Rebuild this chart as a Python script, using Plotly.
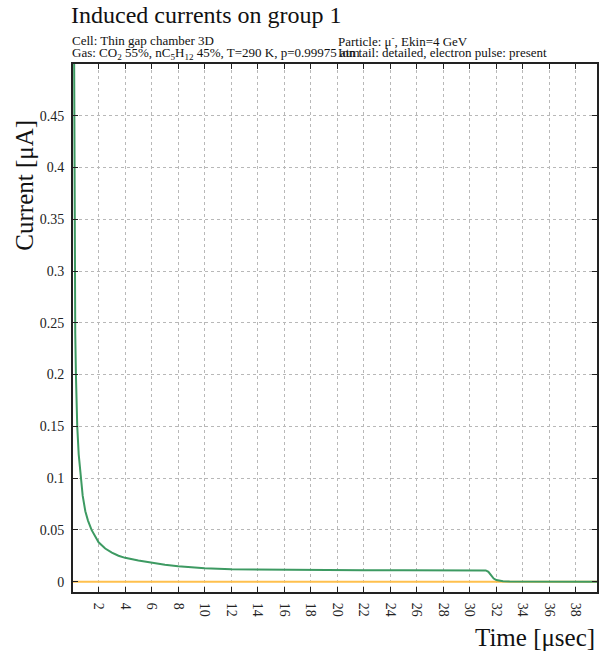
import plotly.graph_objects as go

# signal on group 1 (time in µs, current in µA)
time_us = [0.12, 0.14, 0.16, 0.18, 0.2, 0.24, 0.29, 0.34, 0.39, 0.5, 0.64, 0.8, 1.0, 1.2, 1.47, 1.7, 2.0, 2.5, 3.0, 3.5, 4.0,
           5.0, 6.0, 7.0, 8.0, 9.0, 10.0, 12.0, 14.0, 16.0, 18.0, 20.0, 22.0, 25.0, 28.0, 30.0, 31.2,
           31.4, 31.6, 31.8, 32.0, 32.2, 32.5, 33.0, 36.0, 40.0]
current_uA = [0.62, 0.5, 0.42, 0.35, 0.29, 0.24, 0.2, 0.172, 0.15, 0.123, 0.1, 0.083, 0.068, 0.059, 0.05, 0.045, 0.038, 0.032, 0.028, 0.025, 0.023,
              0.0205, 0.0182, 0.0163, 0.0149, 0.0138, 0.013, 0.012, 0.0117, 0.0114, 0.0112, 0.0111, 0.011, 0.0109, 0.0108, 0.0108, 0.0108,
              0.0095, 0.006, 0.003, 0.0015, 0.0008, 0.0003, 0.0001, 0.0, 0.0]
zero_time = [0.0, 40.0]
zero_current = [0.0, 0.0]

x_ticks = list(range(2, 40, 2))
y_ticks = [0, 0.05, 0.1, 0.15, 0.2, 0.25, 0.3, 0.35, 0.4, 0.45]
y_tick_text = ["0", "0.05", "0.1", "0.15", "0.2", "0.25", "0.3", "0.35", "0.4", "0.45"]

SERIF = "Liberation Serif, Times New Roman, serif"
W, H = 599, 655
L, R, T, B = 73, 0, 64, 63
pw, ph = W - L - R, H - T - B

fig = go.Figure()
fig.add_trace(go.Scatter(x=zero_time, y=zero_current, mode="lines",
                         line=dict(color="#ffc04d", width=2), showlegend=False))
fig.add_trace(go.Scatter(x=time_us, y=current_uA, mode="lines",
                         line=dict(color="#3d9a62", width=2), showlegend=False))

axis_common = dict(showline=True, linecolor="#222", linewidth=2, mirror="ticks",
                   ticks="inside", ticklen=5, tickcolor="#222", tickwidth=1,
                   showgrid=True, gridcolor="#b8b8b8", griddash="dot", gridwidth=1,
                   zeroline=False, tickfont=dict(family=SERIF, size=14, color="#222"))

fig.update_xaxes(range=[0.07, 39.59], tickvals=x_ticks, tickangle=90,
                 ticklabelstandoff=6, **axis_common)
fig.update_yaxes(range=[-0.01, 0.5], tickvals=y_ticks, ticktext=y_tick_text,
                 ticklabelstandoff=4, **axis_common)

ann = [
    dict(text="Induced currents on group 1", xpx=69, ypx=0, size=24),
    dict(text="Cell: Thin gap chamber 3D", xpx=70, ypx=31, size=13),
    dict(text="Particle: \u03bc<sup>-</sup>, Ekin=4 GeV", xpx=337, ypx=31, size=13),
    dict(text="Gas: CO<sub>2</sub> 55%, nC<sub>5</sub>H<sub>12</sub> 45%, T=290 K, p=0.99975 atm",
         xpx=70, ypx=43, size=13),
    dict(text="Ion tail: detailed, electron pulse: present", xpx=337, ypx=43, size=13),
]
annotations = []
for a in ann:
    annotations.append(dict(text=a["text"], xref="paper", yref="paper",
                            x=(a["xpx"] - L) / pw, y=(H - B - a["ypx"]) / ph,
                            xanchor="left", yanchor="top", showarrow=False,
                            font=dict(family=SERIF, size=a["size"], color="#111")))
annotations.append(dict(text="Current [\u03bcA]", xref="paper", yref="paper",
                        x=(24 - L) / pw, y=(H - B - 118) / ph, xanchor="center", yanchor="top",
                        textangle=-90, showarrow=False,
                        font=dict(family=SERIF, size=25, color="#111")))
annotations.append(dict(text="Time [\u03bcsec]", xref="paper", yref="paper",
                        x=(599 - L) / pw, y=(H - B - 622) / ph, xanchor="right", yanchor="top",
                        showarrow=False, font=dict(family=SERIF, size=25, color="#111")))

fig.update_layout(
    width=W, height=H,
    margin=dict(l=L, r=R, t=T, b=B),
    plot_bgcolor="white", paper_bgcolor="white",
    annotations=annotations,
)

fig.write_html("out.html", config={"displayModeBar": False},
               post_script="document.body.style.margin='0';document.body.style.overflow='hidden';")
